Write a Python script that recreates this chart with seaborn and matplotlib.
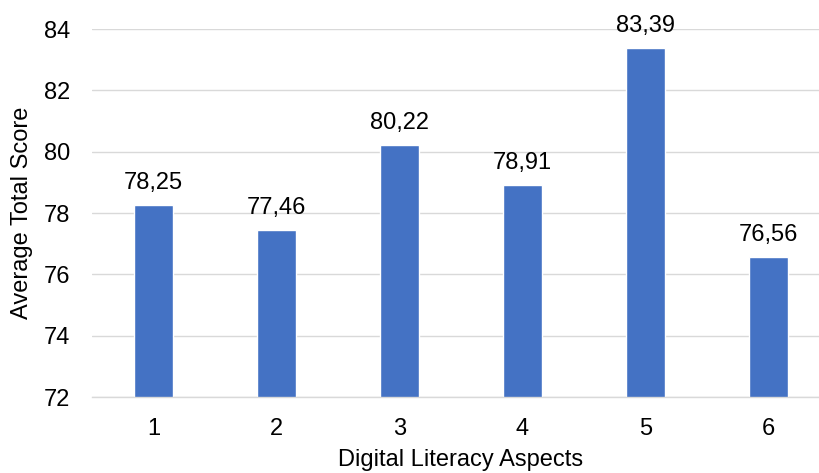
import matplotlib
matplotlib.use("Agg")
import matplotlib.pyplot as plt
import seaborn as sns
import pandas as pd

aspects = ["1", "2", "3", "4", "5", "6"]
scores = [78.25, 77.46, 80.22, 78.91, 83.39, 76.56]
y_ticks = [72, 74, 76, 78, 80, 82, 84]

sns.set_theme(style="white")
plt.rcParams["font.family"] = ["Liberation Sans", "DejaVu Sans"]

FS = 17

df = pd.DataFrame({"aspect": aspects, "score": scores})

fig = plt.figure(figsize=(8.19, 4.73), dpi=100)
ax = fig.add_axes([92 / 819, 76 / 473, 738 / 819, 368 / 473])

sns.barplot(data=df, x="aspect", y="score", color="#4472C4", saturation=1,
            width=0.31, ax=ax, zorder=3)

ax.set_ylim(72, 84)
ax.set_yticks(y_ticks)
ax.set_yticklabels([str(t) for t in y_ticks])
ax.yaxis.grid(True, color="#d9d9d9", linewidth=1.0, zorder=0)
ax.xaxis.grid(False)
for side in ["top", "right", "left"]:
    ax.spines[side].set_visible(False)
ax.spines["bottom"].set_color("#d9d9d9")
ax.spines["bottom"].set_linewidth(1.0)
ax.spines["bottom"].set_zorder(4)
ax.tick_params(axis="both", length=0, labelsize=FS, colors="#000000")
ax.tick_params(axis="y", pad=16)
ax.tick_params(axis="x", pad=15)

for i, v in enumerate(scores):
    ax.annotate(f"{v:.2f}".replace(".", ","), (i, v), xytext=(0, 11.5),
                textcoords="offset points", ha="center", va="baseline",
                fontsize=FS, color="#000000")

ax.set_xlabel("Digital Literacy Aspects", fontsize=FS, color="#000000")
ax.set_ylabel("Average Total Score", fontsize=FS, color="#000000")
ax.xaxis.set_label_coords(0.5, -(449 - 397) / 368)
ax.yaxis.set_label_coords(-(92 - 33) / 738, (397 - 213) / 368)

fig.savefig("out.png", dpi=100)
